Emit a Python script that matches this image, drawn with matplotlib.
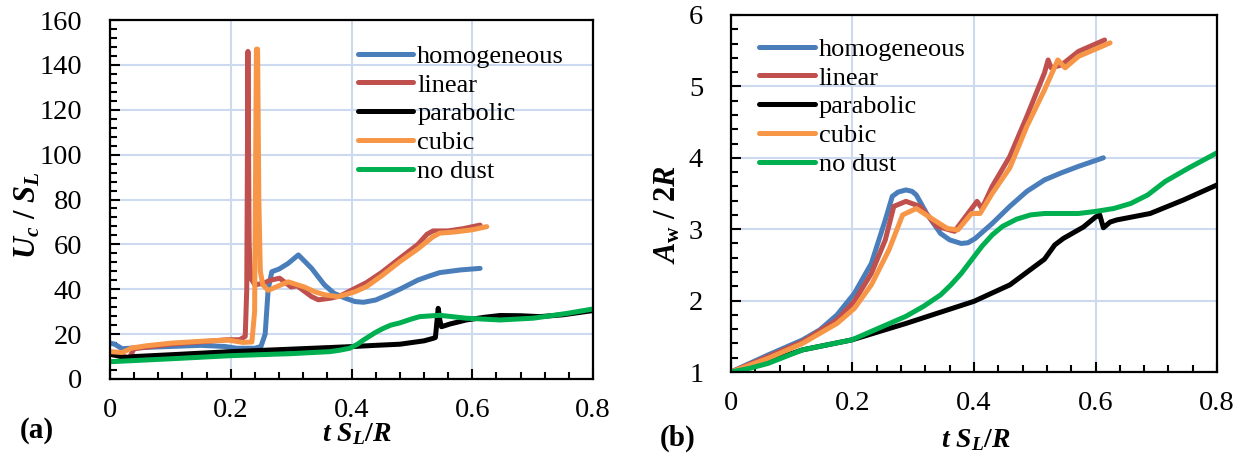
import matplotlib
matplotlib.use('Agg')
import matplotlib.pyplot as plt
from matplotlib.ticker import MultipleLocator

plt.rcParams['font.family'] = 'serif'
plt.rcParams['font.serif'] = ['Liberation Serif', 'DejaVu Serif']
plt.rcParams['mathtext.fontset'] = 'custom'
plt.rcParams['mathtext.it'] = 'Liberation Serif:italic:bold'
plt.rcParams['mathtext.rm'] = 'Liberation Serif:bold'
plt.rcParams['mathtext.bf'] = 'Liberation Serif:bold'
plt.rcParams['xtick.major.pad'] = 14
plt.rcParams['ytick.major.pad'] = 20
plt.rcParams['xtick.direction'] = 'in'
plt.rcParams['ytick.direction'] = 'in'

# ---------------- data: panel (a)  U_c / S_L ----------------
hom_a_t = [0, 0.008, 0.02, 0.05, 0.10, 0.15, 0.19, 0.21, 0.24, 0.250, 0.257, 0.262, 0.268, 0.28, 0.295,
           0.312, 0.334, 0.355, 0.371, 0.39, 0.406, 0.42, 0.44, 0.46, 0.48, 0.51, 0.53, 0.546, 0.58, 0.613]
hom_a_v = [16, 15.5, 13.5, 14, 14.5, 15, 14.5, 13.7, 13.7, 14.5, 20, 40, 47.8, 49, 51.5,
           55.3, 49.3, 42, 38.2, 36, 34.5, 34.2, 35.2, 37.5, 40, 44.1, 46, 47.4, 48.6, 49.3]

lin_a_t = [0, 0.015, 0.025, 0.032, 0.04, 0.10, 0.195, 0.215, 0.224, 0.2265, 0.2285, 0.2305, 0.233, 0.24,
           0.254, 0.265, 0.281, 0.30, 0.31, 0.334, 0.345, 0.365, 0.381, 0.406, 0.425, 0.45, 0.48, 0.51,
           0.525, 0.535, 0.56, 0.585, 0.613]
lin_a_v = [11, 10.5, 10, 9.5, 13.5, 15.5, 17.5, 17.5, 19, 40, 146, 60, 45, 42,
           42.6, 44, 44.9, 41, 41.5, 36.7, 35.3, 36, 37, 40.4, 43, 47.5, 53.8, 60,
           64.5, 66, 66, 67, 68.6]

par_a_t = [0, 0.01, 0.025, 0.04, 0.1, 0.2, 0.3, 0.397, 0.44, 0.48, 0.52, 0.535, 0.539, 0.5436, 0.5465,
           0.549, 0.563, 0.59, 0.62, 0.646, 0.68, 0.712, 0.75, 0.8]
par_a_v = [11, 10.5, 9.5, 10, 10.8, 12.2, 13.3, 14.4, 15, 15.5, 17, 18.1, 18.5, 31.5, 26,
           23.3, 24.5, 26.3, 27.5, 28.3, 28.2, 27.8, 28.6, 30.5]

cub_a_t = [0, 0.02, 0.036, 0.06, 0.102, 0.15, 0.195, 0.22, 0.235, 0.2395, 0.2425, 0.2445, 0.2465, 0.249,
           0.253, 0.262, 0.275, 0.295, 0.322, 0.34, 0.356, 0.378, 0.406, 0.425, 0.45, 0.48, 0.51,
           0.535, 0.546, 0.57, 0.6, 0.624]
cub_a_v = [12.2, 11.8, 13.8, 14.8, 16, 16.8, 17.4, 16.3, 16.5, 30, 147, 147, 80, 48,
           42, 39.5, 41, 43.3, 41, 38.8, 37.5, 36.7, 38.9, 41.2, 46, 52.3, 58,
           63.4, 65, 65.5, 66.5, 67.9]

nod_a_t = [0, 0.1, 0.2, 0.3, 0.3643, 0.38, 0.397, 0.41, 0.42, 0.44, 0.453, 0.465, 0.48, 0.50, 0.513,
           0.546, 0.59, 0.646, 0.701, 0.756, 0.8]
nod_a_v = [7.7, 9, 10.4, 11.3, 12.2, 12.8, 13.7, 15.5, 17.4, 20.8, 22.6, 24, 25, 26.8, 27.8,
           28.4, 27.1, 26.3, 27.1, 29.2, 31.2]

# ---------------- data: panel (b)  A_w / 2R ----------------
hom_b_t = [0, 0.0608, 0.1177, 0.146, 0.1745, 0.203, 0.231, 0.254, 0.2655, 0.275, 0.288, 0.298, 0.305,
           0.322, 0.345, 0.36, 0.379, 0.39, 0.402, 0.430, 0.459, 0.487, 0.516, 0.544, 0.572, 0.613]
hom_b_v = [1.0, 1.238, 1.449, 1.589, 1.80, 2.10, 2.52, 3.13, 3.46, 3.52, 3.55, 3.53, 3.48,
           3.22, 2.94, 2.85, 2.80, 2.81, 2.87, 3.08, 3.32, 3.53, 3.69, 3.79, 3.88, 4.0]

lin_b_t = [0, 0.0608, 0.1177, 0.1745, 0.203, 0.231, 0.254, 0.268, 0.288, 0.311, 0.339, 0.368, 0.39,
           0.405, 0.413, 0.430, 0.459, 0.487, 0.516, 0.522, 0.527, 0.544, 0.572, 0.615]
lin_b_v = [1.0, 1.215, 1.425, 1.73, 1.99, 2.38, 2.85, 3.32, 3.39, 3.32, 3.04, 2.97, 3.22,
           3.39, 3.29, 3.60, 4.02, 4.58, 5.19, 5.37, 5.26, 5.30, 5.49, 5.65]

par_b_t = [0, 0.03, 0.0608, 0.1177, 0.199, 0.288, 0.40, 0.459, 0.516, 0.533, 0.547, 0.58, 0.60, 0.607,
           0.613, 0.624, 0.635, 0.69, 0.745, 0.8]
par_b_v = [1.0, 1.06, 1.145, 1.31, 1.45, 1.68, 1.99, 2.22, 2.58, 2.78, 2.87, 3.03, 3.17, 3.2,
           3.02, 3.1, 3.13, 3.22, 3.41, 3.62]

cub_b_t = [0, 0.0608, 0.1177, 0.1745, 0.203, 0.231, 0.260, 0.2825, 0.305, 0.334, 0.356, 0.3735, 0.396,
           0.41, 0.430, 0.459, 0.487, 0.516, 0.538, 0.55, 0.572, 0.624]
cub_b_v = [1.0, 1.19, 1.40, 1.68, 1.89, 2.22, 2.71, 3.20, 3.29, 3.13, 3.01, 2.99, 3.22,
           3.22, 3.50, 3.86, 4.44, 4.95, 5.37, 5.26, 5.42, 5.61]

nod_b_t = [0, 0.03, 0.0608, 0.1177, 0.199, 0.288, 0.317, 0.345, 0.362, 0.379, 0.396, 0.413, 0.430,
           0.447, 0.47, 0.493, 0.516, 0.572, 0.601, 0.63, 0.658, 0.686, 0.715, 0.754, 0.8]
nod_b_v = [1.0, 1.05, 1.12, 1.31, 1.45, 1.78, 1.92, 2.08, 2.22, 2.38, 2.57, 2.76, 2.92,
           3.04, 3.14, 3.20, 3.22, 3.22, 3.25, 3.29, 3.36, 3.48, 3.67, 3.86, 4.07]

labels = ['homogeneous', 'linear', 'parabolic', 'cubic', 'no dust']
colors = ['#4A7EBB', '#C0504D', '#000000', '#F79646', '#00B050']

W, H = 1247, 467
fig = plt.figure(figsize=(W / 100, H / 100), dpi=100)

def px_axes(x0, x1, y0, y1):
    return fig.add_axes([x0 / W, 1 - y1 / H, (x1 - x0) / W, (y1 - y0) / H])

grid_c = '#CCD9EE'
lw = 3.6

def style(ax, ymin, ymax, ymaj, ymin_step):
    ax.set_xlim(0, 0.8)
    ax.set_ylim(ymin, ymax)
    ax.xaxis.set_major_locator(MultipleLocator(0.2))
    ax.xaxis.set_minor_locator(MultipleLocator(0.04))
    ax.yaxis.set_major_locator(MultipleLocator(ymaj))
    ax.yaxis.set_minor_locator(MultipleLocator(ymin_step))
    ax.grid(True, which='major', color=grid_c, lw=1.5, zorder=0)
    ax.set_axisbelow(True)
    for s in ax.spines.values():
        s.set_linewidth(1.6)
        s.set_color('black')
        s.set_zorder(5)
    ax.tick_params(which='both', width=1.5, labelsize=20.5, color='black')
    ax.tick_params(which='major', length=7)
    ax.tick_params(which='minor', length=5)
    ax.xaxis.set_major_formatter(plt.FuncFormatter(lambda v, p: '0' if abs(v) < 1e-9 else f'{v:g}'))

legend_kw = dict(loc='upper left', frameon=False, fontsize=19, handlelength=2.1, handletextpad=0.15,
                 labelspacing=0.2, borderpad=0, borderaxespad=0)

# panel (a)
axa = px_axes(110, 593, 20, 379)
style(axa, 0, 160, 20, 4)
series_a = [(hom_a_t, hom_a_v), (lin_a_t, lin_a_v), (par_a_t, par_a_v), (cub_a_t, cub_a_v), (nod_a_t, nod_a_v)]
for (t, v), lab, c in zip(series_a, labels, colors):
    axa.plot(t, v, color=c, lw=lw, label=lab, solid_capstyle='round', solid_joinstyle='round', zorder=3)
axa.legend(bbox_to_anchor=(0.513, 0.932), **legend_kw)

# panel (b)
axb = px_axes(731, 1217, 15, 372)
style(axb, 1, 6, 1, 0.2)
series_b = [(hom_b_t, hom_b_v), (lin_b_t, lin_b_v), (par_b_t, par_b_v), (cub_b_t, cub_b_v), (nod_b_t, nod_b_v)]
for (t, v), lab, c in zip(series_b, labels, colors):
    axb.plot(t, v, color=c, lw=lw, label=lab, solid_capstyle='round', solid_joinstyle='round', zorder=3)
axb.legend(bbox_to_anchor=(0.058, 0.937), **legend_kw)

# labels
fig.text(28 / W, 1 - 215 / H, r'$U_c\ /\ S_L$', rotation=90, ha='center', va='center', fontsize=22)
fig.text(668 / W, 1 - 215 / H, r'$A_\mathrm{w}\ /\ 2R$', rotation=90, ha='center', va='center', fontsize=22)
fig.text(357 / W, 1 - 434 / H, r'$t\ S_L/R$', ha='center', va='center', fontsize=20)
fig.text(976 / W, 1 - 440 / H, r'$t\ S_L/R$', ha='center', va='center', fontsize=20)
fig.text(37 / W, 1 - 430 / H, '(a)', ha='center', va='center', fontsize=21, fontweight='bold')
fig.text(678 / W, 1 - 438 / H, '(b)', ha='center', va='center', fontsize=21, fontweight='bold')

fig.savefig('out.png', dpi=100)
